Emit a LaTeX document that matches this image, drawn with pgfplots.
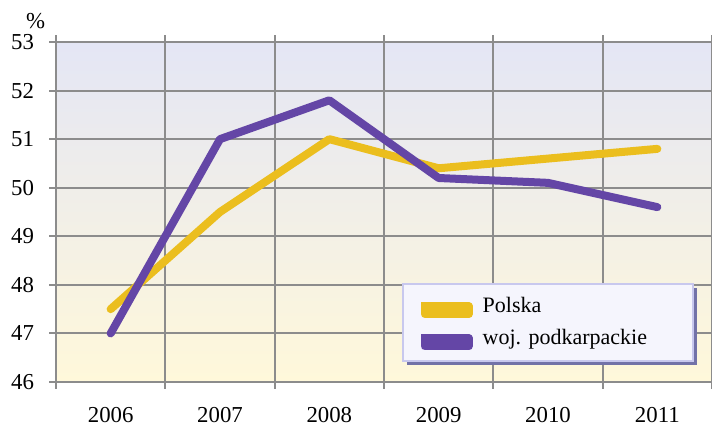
\documentclass[border=0pt]{standalone}
\usepackage{pgfplots}
\pgfplotsset{compat=1.18}
\usetikzlibrary{shadows}
\usepackage{fontspec}
\setmainfont{Liberation Serif}

\definecolor{gridgray}{HTML}{8C8C8C}
\definecolor{plyellow}{HTML}{EBBE1E}
\definecolor{plpurple}{HTML}{6446A6}
\definecolor{bgtop}{HTML}{E4E6F5}
\definecolor{bgbottom}{HTML}{FFF8DA}
\definecolor{legborder}{HTML}{C8C8EE}
\definecolor{legfill}{HTML}{F5F5FD}
\definecolor{legshadow}{HTML}{7272A8}

\begin{document}
\begin{tikzpicture}
\useasboundingbox (0,0) rectangle (356pt,213pt);
\begin{axis}[
    at={(28pt,22pt)}, anchor=south west,
    scale only axis,
    width=328pt, height=170pt,
    font=\fontsize{11.4}{13}\selectfont,
    xmin=0, xmax=6,
    ymin=46, ymax=53,
    xtick={0.5,1.5,2.5,3.5,4.5,5.5},
    xticklabels={2006,2007,2008,2009,2010,2011},
    minor xtick={0,1,2,3,4,5,6},
    ytick={46,47,48,49,50,51,52,53},
    major x tick style={draw=none},
    minor x grid style={gridgray, line width=1pt},
    minor tick length=3.5pt,
    major tick length=3.5pt,
    tick align=outside,
    tick style={gridgray, line width=1pt},
    xminorgrids=true,
    ymajorgrids=true,
    major grid style={gridgray, line width=1pt},
    axis line style={gridgray, line width=1pt},
    /pgf/number format/assume math mode=true,
    yticklabel style={xshift=-4pt},
    xticklabel style={yshift=-5.5pt},
    axis background/.style={top color=bgtop, middle color=white, bottom color=bgbottom},
    legend style={
        at={(0.527,0.06)}, anchor=south west,
        draw=legborder, line width=1pt, fill=legfill,
        drop shadow={shadow xshift=2pt, shadow yshift=-2pt, fill=legshadow, opacity=1},
        inner xsep=9pt, inner ysep=4.5pt,
        row sep=3pt,
        font=\fontsize{11}{13}\selectfont,
        /tikz/every odd column/.append style={column sep=7pt},
    },
    legend cell align=left,
    legend image code/.code={
        \fill[#1, draw=none, sharp corners] (0pt,-2pt) rectangle (22pt,2pt);
    },
]
\addplot[color=plyellow, line width=4pt, line cap=round, line join=round]
    coordinates {(0.5,47.5)(1.5,49.5)(2.5,51.0)(3.5,50.4)(4.5,50.6)(5.5,50.8)};
\addlegendentry{\makebox[94pt][l]{Polska}}
\addplot[color=plpurple, line width=4pt, line cap=round, line join=round]
    coordinates {(0.5,47.0)(1.5,51.0)(2.5,51.8)(3.5,50.2)(4.5,50.1)(5.5,49.6)};
\addlegendentry{\makebox[94pt][l]{woj. podkarpackie}}
\end{axis}
\node[font=\fontsize{11.4}{13}\selectfont] at (17.75pt,202.5pt) {\%};
\end{tikzpicture}
\end{document}
